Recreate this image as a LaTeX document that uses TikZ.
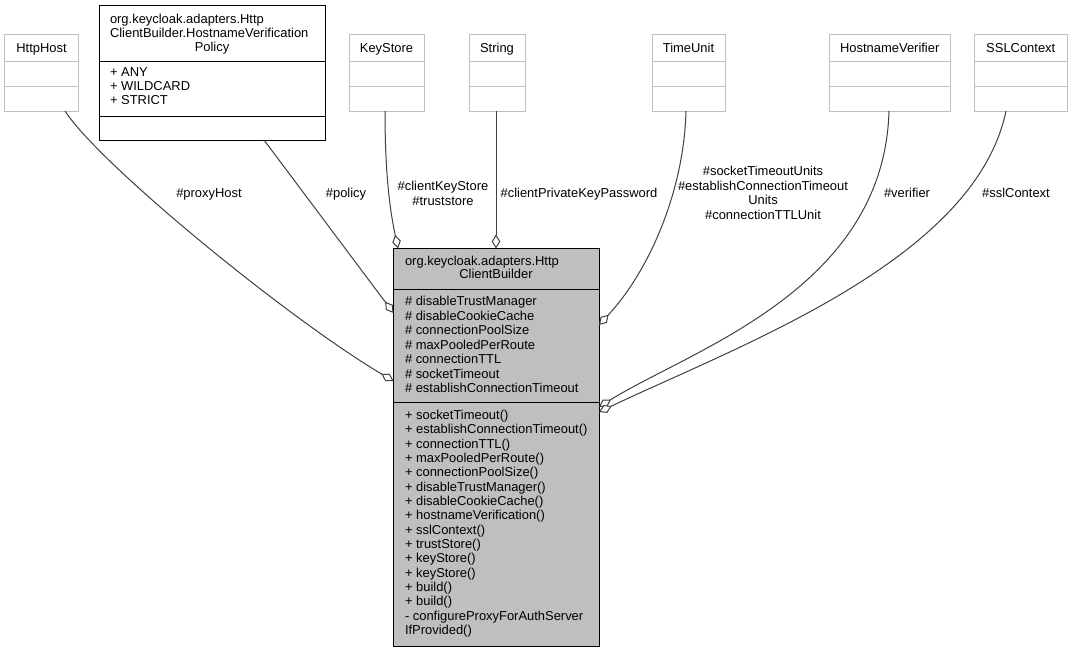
\documentclass[tikz,border=0pt]{standalone}
\usepackage{fontspec}
\setmainfont{Liberation Sans}
\usetikzlibrary{arrows.meta}
\definecolor{edgec}{HTML}{404040}
\definecolor{lightb}{HTML}{BFBFBF}
\definecolor{mainfill}{HTML}{BFBFBF}
\newcommand\dfs{\fontsize{9.7pt}{10.8pt}\selectfont}
\begin{document}
\begin{tikzpicture}[x=0.75pt,y=-0.75pt,
  box/.style={inner sep=0pt, outer sep=0pt, anchor=north west, line width=0.75pt},
  lbox/.style={box, draw=lightb, fill=white},
  txt/.style={font=\dfs, inner sep=0pt, outer sep=0pt, anchor=base},
  ltxt/.style={txt, anchor=base west},
  conn/.style={draw=edgec, line width=0.75pt, -{Diamond[length=10.5pt,width=6.5pt,fill=white]}},
  sepl/.style={line width=0.75pt}]
\useasboundingbox (0,0) rectangle (1072,653);
\fill[white] (0,0) rectangle (1072,653);

% small boxes
\node[lbox, minimum width=74*0.75pt, minimum height=76.5*0.75pt] (httphost) at (4.5,34.5) {};
\node[lbox, minimum width=75*0.75pt, minimum height=76.5*0.75pt] (keystore) at (349,34.5) {};
\node[lbox, minimum width=56*0.75pt, minimum height=76.5*0.75pt] (string) at (469,34.5) {};
\node[lbox, minimum width=73*0.75pt, minimum height=76.5*0.75pt] (timeunit) at (652,34.5) {};
\node[lbox, minimum width=121.5*0.75pt, minimum height=76.5*0.75pt] (hostver) at (829,34.5) {};
\node[lbox, minimum width=92.5*0.75pt, minimum height=76.5*0.75pt] (sslctx) at (974.5,34.5) {};
\foreach \b in {httphost,keystore,string,timeunit,hostver,sslctx}{
  \draw[sepl, lightb] (\b.west |- 0,61) -- (\b.east |- 0,61);
  \draw[sepl, lightb] (\b.west |- 0,86) -- (\b.east |- 0,86);
}
\node[txt] (httphostT) at (httphost.north |- 0,52.6) {HttpHost};
\node[txt] (keystoreT) at (keystore.north |- 0,52.6) {KeyStore};
\node[txt] (stringT) at (string.north |- 0,52.6) {String};
\node[txt] (timeunitT) at (timeunit.north |- 0,52.6) {TimeUnit};
\node[txt] (hostverT) at (hostver.north |- 0,52.6) {HostnameVerifier};
\node[txt] (sslctxT) at (sslctx.north |- 0,52.6) {SSLContext};

% policy box
\node[box, draw=black, fill=white, minimum width=226*0.75pt, minimum height=134.5*0.75pt] (policy) at (99,5.5) {};
\draw[sepl] (policy.west |- 0,61) -- (policy.east |- 0,61);
\draw[sepl] (policy.west |- 0,116) -- (policy.east |- 0,116);
\node[ltxt] (policyT1) at (110,23.1) {org.keycloak.adapters.Http};
\node[ltxt] (policyT2) at (110,37.3) {ClientBuilder.HostnameVerification};
\node[txt] (policyT3) at (212,51.6) {Policy};
\node[ltxt] (policyA1) at (110,76.6) {+ ANY};
\node[ltxt] (policyA2) at (110,90.6) {+ WILDCARD};
\node[ltxt] (policyA3) at (110,104.6) {+ STRICT};

% main box
\node[box, draw=black, fill=mainfill, minimum width=205.5*0.75pt, minimum height=397.5*0.75pt] (main) at (393.5,248.5) {};
\draw[sepl] (main.west |- 0,289) -- (main.east |- 0,289);
\draw[sepl] (main.west |- 0,402) -- (main.east |- 0,402);
\node[ltxt] (mainT1) at (405,265.3) {org.keycloak.adapters.Http};
\node[txt] (mainT2) at (496,278.9) {ClientBuilder};
\foreach \t [count=\i from 0] in {\# disableTrustManager,\# disableCookieCache,\# connectionPoolSize,\# maxPooledPerRoute,\# connectionTTL,\# socketTimeout,\# establishConnectionTimeout}
  \node[ltxt] (attr\i) at (405,{305.6+14.5*\i}) {\t};
\foreach \t [count=\i from 0] in {+ socketTimeout(),+ establishConnectionTimeout(),+ connectionTTL(),+ maxPooledPerRoute(),+ connectionPoolSize(),+ disableTrustManager(),+ disableCookieCache(),+ hostnameVerification(),+ sslContext(),+ trustStore(),+ keyStore(),+ keyStore(),+ build(),+ build(),- configureProxyForAuthServer,IfProvided()}
  \node[ltxt] (meth\i) at (405,{419.6+14.333*\i}) {\t};

% connectors
\draw[conn] (httphost.south -| 65,0) .. controls (100,165) and (290,320) .. (main.west |- 0,381);
\draw[conn] (policy.south -| 264,0) -- (main.west |- 0,313);
\draw[conn] (keystore.south -| 385,0) .. controls (385,180) and (391,215) .. (main.north -| 398,0);
\draw[conn] (string.south -| 496,0) -- (main.north -| 496,0);
\draw[conn] (timeunit.south -| 686,0) .. controls (684,190) and (650,270) .. (main.east |- 0,325);
\draw[conn] (hostver.south -| 889,0) .. controls (884,290) and (690,350) .. (main.east |- 0,407);
\draw[conn] (sslctx.south -| 1006,0) .. controls (975,260) and (740,345) .. (main.east |- 0,412);

% connector labels
\node[txt] (lproxy) at (209,197.6) {\#proxyHost};
\node[txt] (lpolicy) at (346,197.6) {\#policy};
\node[txt] (lkey1) at (443,190.6) {\#clientKeyStore};
\node[txt] (lkey2) at (443,205.3) {\#truststore};
\node[txt] (lpass) at (579,197.9) {\#clientPrivateKeyPassword};
\node[txt] (ltu1) at (763,175.6) {\#socketTimeoutUnits};
\node[txt] (ltu2) at (763,190.9) {\#establishConnectionTimeout};
\node[txt] (ltu3) at (763,204.6) {Units};
\node[txt] (ltu4) at (763,219.9) {\#connectionTTLUnit};
\node[txt] (lver) at (907,197.6) {\#verifier};
\node[txt] (lssl) at (1016,197.6) {\#sslContext};
\end{tikzpicture}
\end{document}
